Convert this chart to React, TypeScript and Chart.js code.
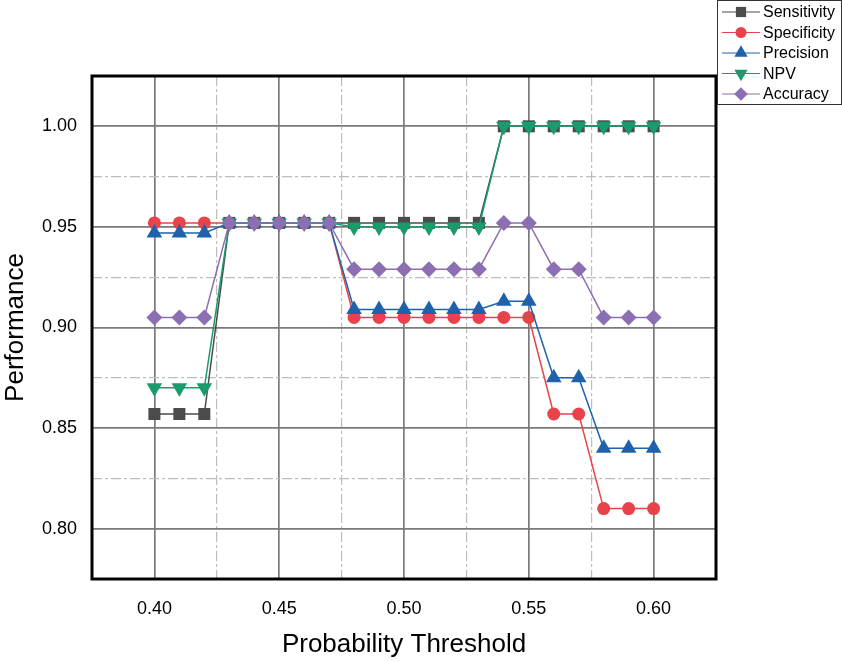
import { useEffect, useRef } from 'react';
import { Chart, registerables } from 'chart.js';

Chart.register(...registerables);

const thresholds = [0.40, 0.41, 0.42, 0.43, 0.44, 0.45, 0.46, 0.47, 0.48, 0.49, 0.50, 0.51, 0.52, 0.53, 0.54, 0.55, 0.56, 0.57, 0.58, 0.59, 0.60];
const sensitivity = [0.857, 0.857, 0.857, 0.952, 0.952, 0.952, 0.952, 0.952, 0.952, 0.952, 0.952, 0.952, 0.952, 0.952, 1.0, 1.0, 1.0, 1.0, 1.0, 1.0, 1.0];
const specificity = [0.952, 0.952, 0.952, 0.952, 0.952, 0.952, 0.952, 0.952, 0.905, 0.905, 0.905, 0.905, 0.905, 0.905, 0.905, 0.905, 0.857, 0.857, 0.810, 0.810, 0.810];
const precision = [0.947, 0.947, 0.947, 0.952, 0.952, 0.952, 0.952, 0.952, 0.909, 0.909, 0.909, 0.909, 0.909, 0.909, 0.913, 0.913, 0.875, 0.875, 0.840, 0.840, 0.840];
const npv = [0.870, 0.870, 0.870, 0.952, 0.952, 0.952, 0.952, 0.952, 0.950, 0.950, 0.950, 0.950, 0.950, 0.950, 1.0, 1.0, 1.0, 1.0, 1.0, 1.0, 1.0];
const accuracy = [0.905, 0.905, 0.905, 0.952, 0.952, 0.952, 0.952, 0.952, 0.929, 0.929, 0.929, 0.929, 0.929, 0.929, 0.952, 0.952, 0.929, 0.929, 0.905, 0.905, 0.905];

const seriesNames = ['Sensitivity', 'Specificity', 'Precision', 'NPV', 'Accuracy'];
const seriesValues = [sensitivity, specificity, precision, npv, accuracy];
const seriesColors = ['#4b4b4b', '#e8424a', '#1f62ab', '#1a9b6c', '#8b6fb2'];
const seriesStyles = ['rect', 'circle', 'triangle', 'triangle', 'rectRot'];
const seriesRotations = [0, 0, 0, 180, 0];
const seriesRadii = [8.5, 6.5, 9, 9, 8];

const FONT = "'Liberation Sans', Arial, Helvetica, sans-serif";

function tickKind(v: number): number {
  const k = Math.round(v * 1000);
  if (k % 50 === 0) return 2;
  if (k % 25 === 0) return 1;
  return 0;
}

function drawMarker(ctx: CanvasRenderingContext2D, style: string, rot: number, r: number, x: number, y: number) {
  ctx.beginPath();
  if (style === 'circle') {
    ctx.arc(x, y, r, 0, Math.PI * 2);
  } else if (style === 'rect') {
    const s = Math.SQRT1_2 * r;
    ctx.rect(x - s, y - s, 2 * s, 2 * s);
  } else if (style === 'rectRot') {
    ctx.moveTo(x - r, y);
    ctx.lineTo(x, y - r);
    ctx.lineTo(x + r, y);
    ctx.lineTo(x, y + r);
    ctx.closePath();
  } else if (style === 'triangle') {
    let a = (rot * Math.PI) / 180;
    ctx.moveTo(x + Math.sin(a) * r, y - Math.cos(a) * r);
    a += (2 * Math.PI) / 3;
    ctx.lineTo(x + Math.sin(a) * r, y - Math.cos(a) * r);
    a += (2 * Math.PI) / 3;
    ctx.lineTo(x + Math.sin(a) * r, y - Math.cos(a) * r);
    ctx.closePath();
  }
  ctx.fill();
}

const framePlugin = {
  id: 'frameAndLegend',
  afterDraw(chart: any) {
    const ctx: CanvasRenderingContext2D = chart.ctx;
    const a = chart.chartArea;
    ctx.save();
    ctx.strokeStyle = '#000';
    ctx.lineWidth = 3;
    ctx.strokeRect(a.left, a.top, a.right - a.left, a.bottom - a.top);

    // legend box
    const lx = 717.5, ly = 0.5, lw = 124, lh = 104;
    ctx.fillStyle = '#fff';
    ctx.fillRect(lx, ly, lw, lh);
    ctx.strokeStyle = '#333';
    ctx.lineWidth = 1;
    ctx.strokeRect(lx, ly, lw, lh);
    ctx.font = `16px ${FONT}`;
    ctx.textBaseline = 'middle';
    ctx.textAlign = 'left';
    seriesNames.forEach((name, i) => {
      const y = 12 + i * 20.5;
      ctx.strokeStyle = seriesColors[i];
      ctx.lineWidth = 1.2;
      ctx.beginPath();
      ctx.moveTo(722, y);
      ctx.lineTo(760, y);
      ctx.stroke();
      ctx.fillStyle = seriesColors[i];
      drawMarker(ctx, seriesStyles[i], seriesRotations[i], seriesRadii[i] * 0.85, 741, y);
      ctx.fillStyle = '#000';
      ctx.fillText(name, 763, y + 1);
    });
    ctx.restore();
  },
};

const gridColor = (c: any) => {
  const v = c.tick ? c.tick.value : NaN;
  const k = tickKind(v);
  if (k === 2) return '#7a7a7a';
  if (k === 1) return '#bdbdbd';
  return 'rgba(0,0,0,0)';
};
const gridWidth = (c: any) => {
  const v = c.tick ? c.tick.value : NaN;
  return tickKind(v) === 2 ? 1.7 : 1.2;
};
const gridDash = (c: any) => {
  const v = c.tick ? c.tick.value : NaN;
  return tickKind(v) === 1 ? [10, 3, 3, 3] : [];
};
const tickLabel = (value: any) => {
  const v = Number(value);
  return tickKind(v) === 2 ? v.toFixed(2) : '';
};

export default function App() {
  const ref = useRef<HTMLCanvasElement | null>(null);
  useEffect(() => {
    if (!ref.current) return;
    const datasets = seriesNames.map((name, i) => ({
      label: name,
      order: seriesNames.length - i,
      data: thresholds.map((t, j) => ({ x: t, y: seriesValues[i][j] })),
      borderColor: seriesColors[i],
      backgroundColor: seriesColors[i],
      borderWidth: 1.5,
      pointStyle: seriesStyles[i] as any,
      pointRotation: seriesRotations[i],
      pointRadius: seriesRadii[i],
      pointBackgroundColor: seriesColors[i],
      pointBorderColor: seriesColors[i],
      pointBorderWidth: 0,
      tension: 0,
      fill: false,
      clip: false as any,
    }));
    const chart = new Chart(ref.current, {
      type: 'line',
      data: { datasets },
      plugins: [framePlugin],
      options: {
        animation: false,
        responsive: false,
        devicePixelRatio: 1,
        layout: { padding: { top: 76, right: 126, left: 0, bottom: 0 } },
        plugins: { legend: { display: false }, tooltip: { enabled: false } },
        scales: {
          x: {
            type: 'linear',
            min: 0.375,
            max: 0.625,
            afterFit: (s: any) => { s.height = 83; },
            ticks: {
              stepSize: 0.025,
              autoSkip: false,
              maxRotation: 0,
              padding: 19,
              color: '#000',
              font: { family: FONT, size: 18 },
              callback: tickLabel,
            },
            grid: { color: gridColor, lineWidth: gridWidth, drawTicks: false },
            border: { display: false, dash: gridDash },
            title: {
              display: true,
              text: 'Probability Threshold',
              color: '#000',
              font: { family: FONT, size: 26 },
              padding: { top: 0, bottom: 2 },
            },
          },
          y: {
            type: 'linear',
            min: 0.775,
            max: 1.025,
            afterFit: (s: any) => { s.width = 92; },
            ticks: {
              stepSize: 0.025,
              autoSkip: false,
              padding: 15,
              color: '#000',
              font: { family: FONT, size: 18 },
              callback: tickLabel,
            },
            grid: { color: gridColor, lineWidth: gridWidth, drawTicks: false },
            border: { display: false, dash: gridDash },
            title: {
              display: true,
              text: 'Performance',
              color: '#000',
              font: { family: FONT, size: 26 },
              padding: { top: 0, bottom: 0 },
            },
          },
        },
      },
    });
    return () => chart.destroy();
  }, []);
  return (
    <div style={{ position: 'absolute', left: 0, top: 0, width: 842, height: 662, background: '#fff' }}>
      <canvas ref={ref} width={842} height={662} style={{ width: 842, height: 662, display: 'block' }} />
    </div>
  );
}
